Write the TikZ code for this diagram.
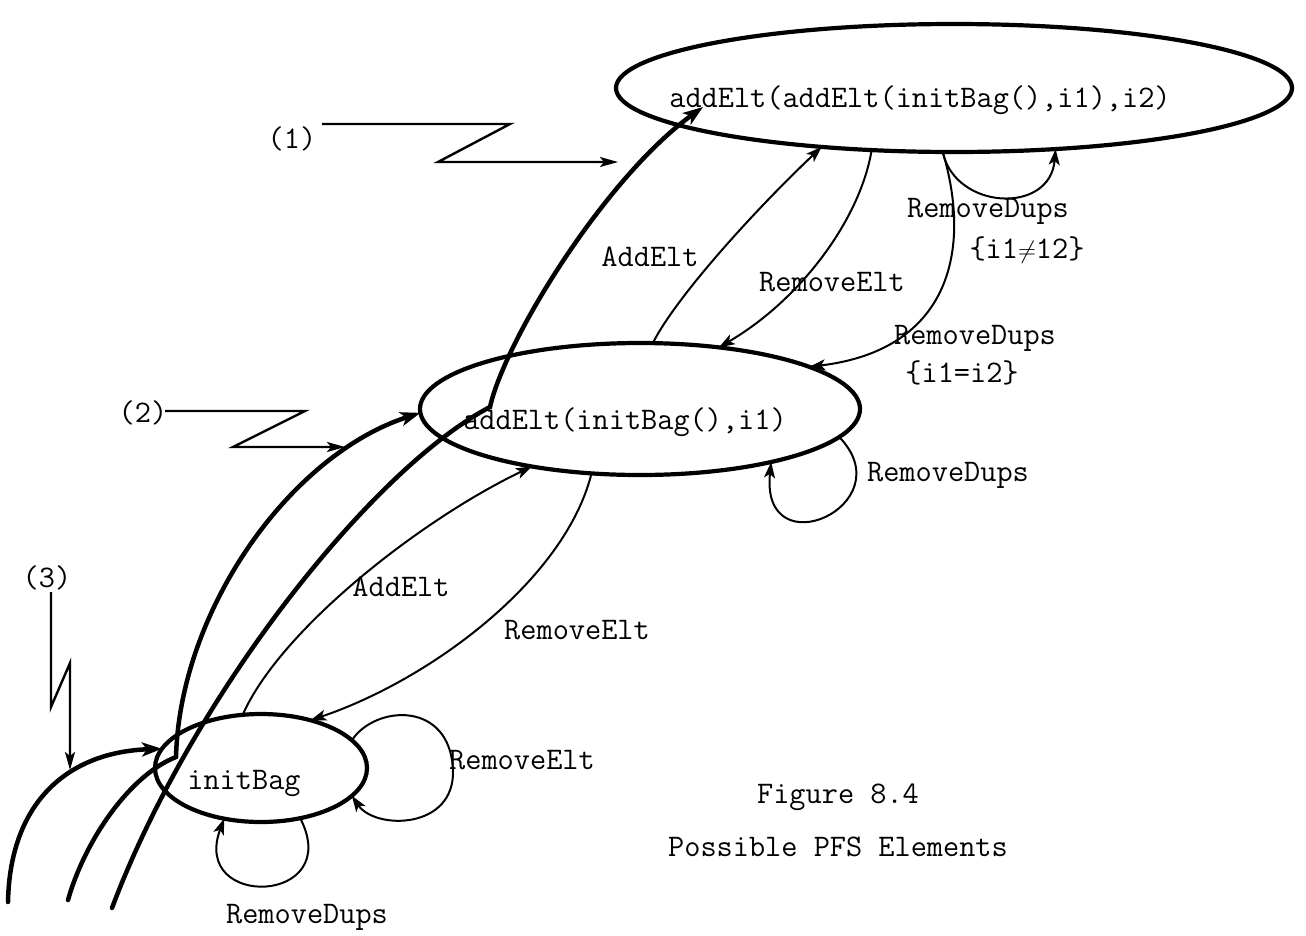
\documentclass[tikz,border=0pt]{standalone}
\usepackage{fontspec}
\usetikzlibrary{shapes.geometric,arrows.meta}
\begin{document}
\begin{tikzpicture}[x=1pt,y=-1pt,
  state/.style={ellipse,draw,line width=4.2pt,inner sep=0pt,outer sep=0pt},
  lbl/.style={font=\ttfamily\fontsize{31.4}{36}\selectfont,inner sep=0pt},
  thin/.style={line width=2pt,-{Stealth[length=16pt,width=11pt,inset=4pt]}},
  trace/.style={line width=4.5pt,line cap=round,-{Stealth[length=20pt,width=14pt,inset=5pt]}},
  pointer/.style={line width=2.4pt,line join=miter,-{Stealth[length=18pt,width=10pt,inset=4pt]}}]
\useasboundingbox (0,0) rectangle (1306,935);

% states
\node[state,minimum width=676pt,minimum height=128pt] (top) at (954,88) {};
\node[state,minimum width=440pt,minimum height=132pt] (mid) at (640,409) {};
\node[state,minimum width=212pt,minimum height=108pt] (bot) at (261,768) {};

\node[lbl] (toptext) at (920,100) {addElt(addElt(initBag(),i1),i2)};
\node[lbl] (midtext) at (625,422) {addElt(initBag(),i1)};
\node[lbl] (bottext) at (244,783) {initBag};

% transitions between states
\draw[thin] (mid.79) .. controls (677,295) and (760,205) .. (top.204);
\draw[thin] (top.217) .. controls (860,220) and (800,300) .. (mid.38);
\draw[thin] (top.260) .. controls (955,210) and (1050,215) .. (top.329);
\draw[thin] (top.260) .. controls (972,250) and (950,350) .. (mid.14);
\draw[thin] (mid.352) .. controls (905,505) and (760,570) .. (mid.338);
\draw[thin] (bot.109) .. controls (280,630) and (420,520) .. (mid.208);
\draw[thin] (mid.233) .. controls (565,580) and (430,680) .. (bot.44);
\draw[thin] (bot.17) .. controls (375,705) and (450,700) .. (453,770)
                     .. controls (455,830) and (375,830) .. (bot.343);
\draw[thin] (bot.308) .. controls (345,905) and (190,910) .. (bot.234);

% transition labels
\node[lbl] (l1) at (650,257) {AddElt};
\node[lbl] (l2) at (832,282) {RemoveElt};
\node[lbl] (l3) at (988,211) {RemoveDups};
\node[lbl] (l3c) at (1027,250) {\{i1${\neq}$12\}};
\node[lbl] (l4) at (975,338) {RemoveDups};
\node[lbl] (l4c) at (962,373) {\{i1=i2\}};
\node[lbl] (l5) at (948,475) {RemoveDups};
\node[lbl] (l6) at (401,587) {AddElt};
\node[lbl] (l7) at (577,630) {RemoveElt};
\node[lbl] (l8) at (522,760) {RemoveElt};
\node[lbl] (l9) at (307,917) {RemoveDups};

% element traces
\coordinate (t1s) at (112,908);
\coordinate (t1k) at (490,407);
\coordinate (t1e) at (703,107);
\draw[trace] (t1s) .. controls (190,700) and (370,470) .. (t1k)
                   .. controls (505,340) and (605,178) .. (t1e);
\coordinate (t2s) at (68,900);
\coordinate (t2k) at (176,757);
\draw[trace] (t2s) .. controls (85,840) and (130,775) .. (t2k)
                   .. controls (180,610) and (290,455) .. (mid.181);
\coordinate (t3s) at (8,902);
\draw[trace] (t3s) .. controls (10,800) and (70,752) .. (bot.169);

% numbered pointers
\node[lbl] (n1) at (292,139) {(1)};
\node[lbl] (n2) at (143,413) {(2)};
\node[lbl] (n3) at (47,578) {(3)};
\coordinate (p1) at (322,124);
\coordinate (p2) at (165,411);
\coordinate (p3) at (51,592);
\draw[pointer] (p1) -- (510,124) -- (438,162) -- (618,162);
\draw[pointer] (p2) -- (305,411) -- (233,447) -- (345,447);
\draw[pointer] (p3) -- (51,707) -- (70,663) -- (70,770);

% caption
\node[lbl] (cap1) at (838,797) {Figure 8.4};
\node[lbl] (cap2) at (838,847) {Possible PFS Elements};
\end{tikzpicture}
\end{document}
